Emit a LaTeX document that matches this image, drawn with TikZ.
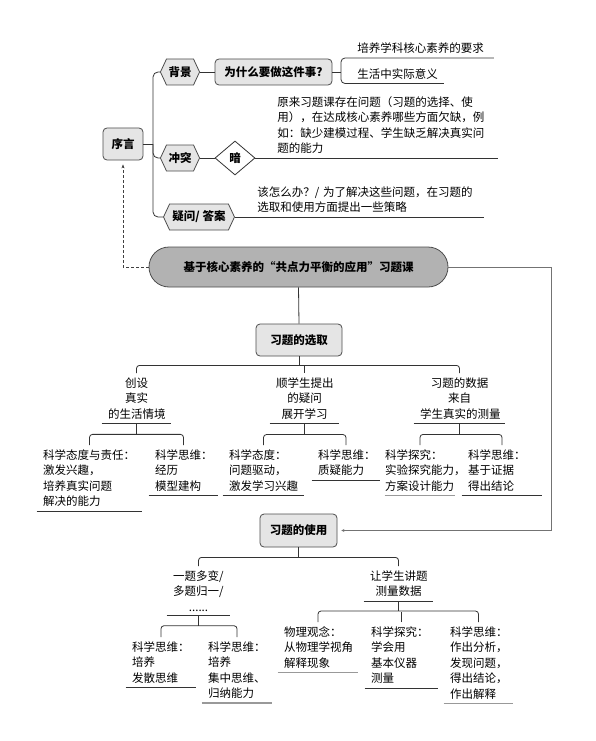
\documentclass[tikz,border=0pt]{standalone}
\usepackage{fontspec}
\setmainfont{Noto Sans CJK SC}
\usetikzlibrary{shapes.geometric}
\usetikzlibrary{shapes.symbols}
\usetikzlibrary{arrows.meta}

\begin{document}
\begin{tikzpicture}[x=1pt,y=-1pt,line width=0.8pt,
	font=\fontsize{11.5}{15.5}\selectfont,
	boldtxt/.style={font=\fontsize{11.5}{15.5}\selectfont\bfseries},
	box/.style={boldtxt,draw=black!70,fill=black!10,rounded corners=4pt,inner sep=0pt},
	hexa/.style={boldtxt,signal,signal to=west and east,signal pointer angle=130,draw=black!70,fill=black!10,minimum height=26pt,inner xsep=2pt,inner ysep=0pt},
	link/.style={draw=black!80},
	greyline/.style={draw=black!40,line width=1.6pt},
	mid/.style={align=center,text width=#1,inner xsep=6pt,inner ysep=4pt,anchor=north},
	leaf/.style={align=left,text width=#1,inner xsep=6pt,inner ysep=4pt,anchor=north},
	note/.style={align=left,text width=#1,inner xsep=0pt,inner ysep=4pt,anchor=south west}]
\useasboundingbox (0,0) rectangle (596,741);
\node[box,minimum width=40pt,minimum height=32pt] (xuyan) at (123,144) {序言};
\node[hexa,minimum width=34pt] (beijing) at (180,72) {背景};
\node[hexa,minimum width=34pt] (chongtu) at (180,158) {冲突};
\node[hexa,minimum width=71pt] (yiwen) at (199,217) {疑问/ 答案};
\node[box,minimum width=117pt,minimum height=26pt] (why) at (273.5,72) {为什么要做这件事?};
\node[boldtxt,diamond,draw=black!80,fill=white,minimum width=40pt,minimum height=34pt,inner sep=0pt,aspect=1.2] (an) at (235,158) {暗};
\node[note=120pt,inner xsep=16pt] (need1) at (341,58) {培养学科核心素养的要求};
\node[note=70pt,inner xsep=16pt] (need2) at (341,83.5) {生活中实际意义};
\node[note=220pt] (issue) at (277,158) {原来习题课存在问题（习题的选择、使\\用），在达成核心素养哪些方面欠缺，例\\如：缺少建模过程、学生缺乏解决真实问\\题的能力};
\node[note=226pt] (plan) at (257,217) {该怎么办？/ 为了解决这些问题，在习题的\\选取和使用方面提出一些策略};

\node[boldtxt,draw=black!70,fill=black!30,rounded corners=20pt,minimum width=299pt,minimum height=40pt] (course) at (298.5,267) {基于核心素养的“共点力平衡的应用”习题课};
\node[box,minimum width=86pt,minimum height=32pt] (select) at (299,340) {习题的选取};
\node[box,minimum width=77pt,minimum height=33pt] (use) at (298.5,530.5) {习题的使用};

\node[mid=57pt] (sel1) at (136.5,373) {创设\\真实\\的生活情境};
\node[mid=57pt] (sel2) at (304.5,373) {顺学生提出\\的疑问\\展开学习};
\node[mid=79pt] (sel3) at (459.5,373) {习题的数据\\来自\\学生真实的测量};
\node[leaf=93pt] (a1) at (89.5,445) {科学态度与责任：\\激发兴趣，\\培养真实问题\\解决的能力};
\node[leaf=57pt] (a2) at (183.5,445) {科学思维：\\经历\\模型建构};
\node[leaf=69pt] (b1) at (263.5,445) {科学态度：\\问题驱动，\\激发学习兴趣};
\node[leaf=56pt] (b2) at (346,445) {科学思维：\\质疑能力};
\node[leaf=70pt,inner xsep=0pt] (c1) at (420,445) {科学探究：\\实验探究能力，\\方案设计能力};
\node[leaf=68pt] (c2) at (502,445) {科学思维：\\基于证据\\得出结论};

\node[mid=51pt] (u1) at (198.5,566) {一题多变/\\多题归一/\\......};
\node[mid=57pt] (u2) at (398.5,566) {让学生讲题\\测量数据};
\node[leaf=58pt] (d1) at (161,637) {科学思维：\\培养\\发散思维};
\node[leaf=58pt] (d2) at (237,637) {科学思维：\\培养\\集中思维、\\归纳能力};
\node[leaf=68pt] (e1) at (318,622) {物理观念：\\从物理学视角\\解释现象};
\node[leaf=61pt] (e2) at (401.5,622) {科学探究：\\学会用\\基本仪器\\测量};
\node[leaf=57pt] (e3) at (478.5,622) {科学思维：\\作出分析，\\发现问题，\\得出结论，\\作出解释};

\coordinate (trunk) at (153,144);
\draw[link] (xuyan.east) -- (trunk);
\draw[link,rounded corners=5pt] (beijing.west) -| (trunk) |- (yiwen.west);
\draw[link,rounded corners=5pt] (trunk) |- (chongtu.west);
\draw[link] (beijing.east) -- (why.west);
\draw[link] (why.east) -- (why.east -| need1.south west);
\draw[link,rounded corners=4pt] (need1.south east) -- (need1.south west) -- (need2.south west) -- (need2.south east);
\draw[link] (chongtu.east) -- (an.west);
\draw[link] (an.east) -- (issue.south east);
\draw[link] (yiwen.east) -- (plan.south east);

\draw[densely dashed,draw=black!75,line width=0.6pt,-{Stealth[length=4pt,width=3pt]},shorten >=4pt] (course.west) -| (xuyan.south);
\draw[draw=black!55,line width=0.6pt,-{Stealth[length=3pt,width=3pt]},shorten >=4pt] (course.east) -- ++(103,0) |- (use.east);
\draw[link] (course.south) -- (select.north);

\foreach \p/\l/\r/\h in {select/sel1/sel3/9,sel1/a1/a2/11,sel2/b1/b2/11,sel3/c1/c2/11,use/u1/u2/10,u1/d1/d2/10,u2/e1/e3/10} {
	\draw[link] (\p.south) -- ++(0,\h) coordinate (joint);
	\draw[link,rounded corners=3pt] (\l.north) |- (joint) -| (\r.north);
}
\draw[link] (sel2.north) -- ++(0,-8);
\draw[link] (e2.north) -- ++(0,-10);
\foreach \n in {sel1,sel2,sel3,a1,a2,b1,b2,c2,u1,u2,d1,e2}
	\draw[link] (\n.south west) -- (\n.south east);
\foreach \n in {c1,d2,e1,e3}
	\draw[greyline] (\n.south west) -- (\n.south east);
\end{tikzpicture}
\end{document}
